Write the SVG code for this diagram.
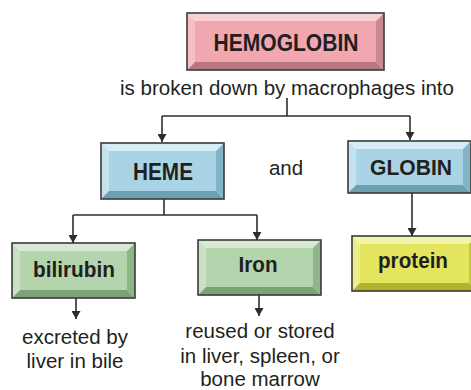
<svg xmlns="http://www.w3.org/2000/svg" width="471" height="390" viewBox="0 0 471 390">
<style>
.lbl{font-family:"Liberation Sans",Arial,sans-serif;font-weight:bold;fill:#231f20;text-anchor:middle}
.txt{font-family:"Liberation Sans",Arial,sans-serif;font-size:20.5px;fill:#231f20;text-anchor:middle}
.edge{stroke:#2e2e2e;stroke-width:1.6;fill:none}
.out{fill:none;stroke:#3a3a3a;stroke-width:1.6}
.pink .t{fill:#f9d0d4}.pink .l{fill:#f5bfc5}.pink .r{fill:#c98890}.pink .b{fill:#b9777f}.pink .f{fill:#f1a7af}
.blue .t{fill:#d6edf6}.blue .l{fill:#c4e3ef}.blue .r{fill:#82b3c6}.blue .b{fill:#6f9fb2}.blue .f{fill:#a9d4e5}
.green .t{fill:#d8ead3}.green .l{fill:#c9e0c4}.green .r{fill:#8fb489}.green .b{fill:#7ea277}.green .f{fill:#b4d4ae}
.yel .t{fill:#f3f4ab}.yel .l{fill:#eded8c}.yel .r{fill:#c4c63c}.yel .b{fill:#b1b32f}.yel .f{fill:#e3e55f}
</style>
<defs>
<marker id="ah" viewBox="0 0 8 9" refX="8" refY="4.5" markerWidth="8" markerHeight="9" markerUnits="userSpaceOnUse" orient="auto">
<path d="M0,0 L8,4.5 L0,9 Z" fill="#2e2e2e"/>
</marker>
</defs>

<g id="connectors">
<path class="edge" d="M287,98 V116"/>
<path class="edge" d="M162,116 H410"/>
<path class="edge" d="M162,116 V142" marker-end="url(#ah)"/>
<path class="edge" d="M410,116 V140" marker-end="url(#ah)"/>
<path class="edge" d="M164,199 V215"/>
<path class="edge" d="M73,215 H257"/>
<path class="edge" d="M73,215 V243" marker-end="url(#ah)"/>
<path class="edge" d="M257,215 V240" marker-end="url(#ah)"/>
<path class="edge" d="M412,193 V236" marker-end="url(#ah)"/>
<path class="edge" d="M76,298 V319" marker-end="url(#ah)"/>
<path class="edge" d="M259,295 V316" marker-end="url(#ah)"/>
</g>

<g id="hemoglobin" class="pink" transform="translate(187,13)">
<polygon class="t" points="0,0 197,0 189,8 8,8"/>
<polygon class="l" points="0,0 8,8 8,49 0,57"/>
<polygon class="r" points="197,0 197,57 189,49 189,8"/>
<polygon class="b" points="0,57 197,57 189,49 8,49"/>
<rect class="f" x="8" y="8" width="181" height="41"/>
<rect class="out" x="0" y="0" width="197" height="57"/>
<text class="lbl" x="99" y="38" font-size="24.5" textLength="145" lengthAdjust="spacingAndGlyphs">HEMOGLOBIN</text>
</g>

<text class="txt" x="287" y="95" font-size="21.2">is broken down by macrophages into</text>

<g id="heme" class="blue" transform="translate(101,143)">
<polygon class="t" points="0,0 123,0 115,8 8,8"/>
<polygon class="l" points="0,0 8,8 8,48 0,56"/>
<polygon class="r" points="123,0 123,56 115,48 115,8"/>
<polygon class="b" points="0,56 123,56 115,48 8,48"/>
<rect class="f" x="8" y="8" width="107" height="40"/>
<rect class="out" x="0" y="0" width="123" height="56"/>
<text class="lbl" x="62" y="37" font-size="23.5" textLength="60" lengthAdjust="spacingAndGlyphs">HEME</text>
</g>

<text class="txt" x="286" y="175">and</text>

<g id="globin" class="blue" transform="translate(348,141)">
<polygon class="t" points="0,0 123,0 115,8 8,8"/>
<polygon class="l" points="0,0 8,8 8,44 0,52"/>
<polygon class="r" points="123,0 123,52 115,44 115,8"/>
<polygon class="b" points="0,52 123,52 115,44 8,44"/>
<rect class="f" x="8" y="8" width="107" height="36"/>
<rect class="out" x="0" y="0" width="123" height="52"/>
<text class="lbl" x="63" y="34" font-size="22.5" textLength="82" lengthAdjust="spacingAndGlyphs">GLOBIN</text>
</g>

<g id="bilirubin" class="green" transform="translate(12,243)">
<polygon class="t" points="0,0 123,0 115,8 8,8"/>
<polygon class="l" points="0,0 8,8 8,47 0,55"/>
<polygon class="r" points="123,0 123,55 115,47 115,8"/>
<polygon class="b" points="0,55 123,55 115,47 8,47"/>
<rect class="f" x="8" y="8" width="107" height="39"/>
<rect class="out" x="0" y="0" width="123" height="55"/>
<text class="lbl" x="62" y="34" font-size="22" textLength="82" lengthAdjust="spacingAndGlyphs">bilirubin</text>
</g>

<g id="iron" class="green" transform="translate(198,240)">
<polygon class="t" points="0,0 123,0 115,8 8,8"/>
<polygon class="l" points="0,0 8,8 8,47 0,55"/>
<polygon class="r" points="123,0 123,55 115,47 115,8"/>
<polygon class="b" points="0,55 123,55 115,47 8,47"/>
<rect class="f" x="8" y="8" width="107" height="39"/>
<rect class="out" x="0" y="0" width="123" height="55"/>
<text class="lbl" x="60" y="32" font-size="22" textLength="39" lengthAdjust="spacingAndGlyphs">Iron</text>
</g>

<g id="protein" class="yel" transform="translate(352,236)">
<polygon class="t" points="0,0 125,0 117,8 8,8"/>
<polygon class="l" points="0,0 8,8 8,47 0,55"/>
<polygon class="r" points="125,0 125,55 117,47 117,8"/>
<polygon class="b" points="0,55 125,55 117,47 8,47"/>
<rect class="f" x="8" y="8" width="109" height="39"/>
<rect class="out" x="0" y="0" width="125" height="55"/>
<text class="lbl" x="61" y="32" font-size="22" textLength="70" lengthAdjust="spacingAndGlyphs">protein</text>
</g>

<g id="excreted">
<text class="txt" x="75" y="344">excreted by</text>
<text class="txt" x="75" y="368">liver in bile</text>
</g>

<g id="reused">
<text class="txt" x="260" y="338">reused or stored</text>
<text class="txt" x="260" y="363">in liver, spleen, or</text>
<text class="txt" x="260" y="386">bone marrow</text>
</g>
</svg>
